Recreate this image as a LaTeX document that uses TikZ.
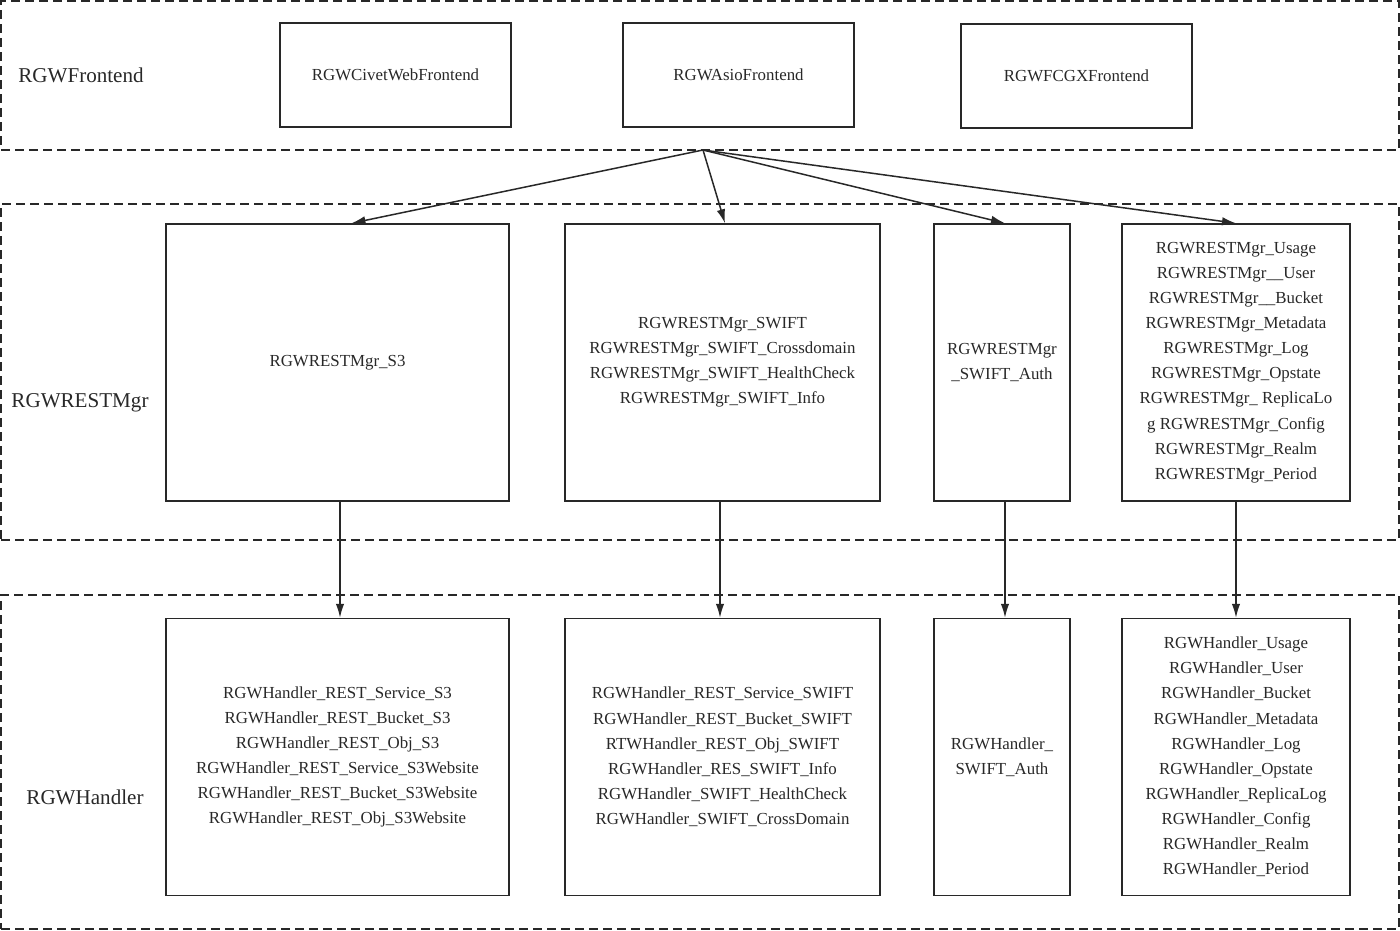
\documentclass[tikz,border=0pt]{standalone}
\usepackage{fontspec}
\setmainfont{Liberation Serif}
\usetikzlibrary{arrows.meta,positioning,fit,calc}
\definecolor{ink}{RGB}{40,40,40}
\tikzset{
  layer/.style={draw=ink, line width=0.45mm, dash pattern=on 1.7mm off 1.1mm, inner sep=0pt},
  lyrlbl/.style={font=\fontsize{12}{14}\selectfont, text=ink},
  cls/.style={rectangle, draw=ink, line width=0.3mm, align=center, text=ink,
              font=\fontsize{9.6}{14.3}\selectfont, inner sep=1pt},
  fe/.style={cls, minimum width=46.2mm, minimum height=20.8mm},
  ar/.style={-{Latex[length=2.8mm,width=1.7mm]}, line width=0.3mm, draw=ink},
}

\begin{document}
\begin{tikzpicture}[x=0.2mm,y={(0,-0.2mm)}]
\useasboundingbox (0,0) rectangle (1400,931);
% layers
\node[layer, fit={(1,1) (1399,150)}] (lfe) {};
\node[layer, fit={(1,204) (1399,540)}] (lmgr) {};
\node[layer, fit={(1,595) (1399,929)}] (lhd) {};
\node[lyrlbl] (tfe) at (81,75) {RGWFrontend};
\node[lyrlbl] (tmgr) at (80,403) {RGWRESTMgr};
\node[lyrlbl] (thd) at (85,797) {RGWHandler};

% frontends
\node[fe] (civet) at (395.5,75) {RGWCivetWebFrontend};
\node[fe] (asio) at (738.5,75) {RGWAsioFrontend};
\node[fe] (fcgx) at (1076.5,76) {RGWFCGXFrontend};

% REST managers
\node[cls, minimum width=68.6mm, minimum height=55.4mm] (ms3) at (337.5,362.5) {RGWRESTMgr\_S3};
\node[cls, minimum width=63mm, minimum height=55.4mm] (msw) at (722.5,362.5)
  {RGWRESTMgr\_SWIFT\\RGWRESTMgr\_SWIFT\_Crossdomain\\RGWRESTMgr\_SWIFT\_HealthCheck\\RGWRESTMgr\_SWIFT\_Info};
\node[cls, minimum width=27.2mm, minimum height=55.4mm] (mau) at (1002,362.5) {RGWRESTMgr\\\_SWIFT\_Auth};
\node[cls, minimum width=45.6mm, minimum height=55.4mm] (mus) at (1236,362.5)
  {RGWRESTMgr\_Usage\\RGWRESTMgr\_\_User\\RGWRESTMgr\_\_Bucket\\RGWRESTMgr\_Metadata\\RGWRESTMgr\_Log\\
   RGWRESTMgr\_Opstate\\RGWRESTMgr\_ ReplicaLo\\g RGWRESTMgr\_Config\\RGWRESTMgr\_Realm\\RGWRESTMgr\_Period};

% handlers
\node[cls, minimum width=68.6mm, minimum height=55.4mm, below=23.2mm of ms3] (hs3)
  {RGWHandler\_REST\_Service\_S3\\RGWHandler\_REST\_Bucket\_S3\\RGWHandler\_REST\_Obj\_S3\\
   RGWHandler\_REST\_Service\_S3Website\\RGWHandler\_REST\_Bucket\_S3Website\\RGWHandler\_REST\_Obj\_S3Website};
\node[cls, minimum width=63mm, minimum height=55.4mm, below=23.2mm of msw] (hsw)
  {RGWHandler\_REST\_Service\_SWIFT\\RGWHandler\_REST\_Bucket\_SWIFT\\RTWHandler\_REST\_Obj\_SWIFT\\
   RGWHandler\_RES\_SWIFT\_Info\\RGWHandler\_SWIFT\_HealthCheck\\RGWHandler\_SWIFT\_CrossDomain};
\node[cls, minimum width=27.2mm, minimum height=55.4mm, below=23.2mm of mau] (hau) {RGWHandler\_\\SWIFT\_Auth};
\node[cls, minimum width=45.6mm, minimum height=55.4mm, below=23.2mm of mus] (hus)
  {RGWHandler\_Usage\\RGWHandler\_User\\RGWHandler\_Bucket\\RGWHandler\_Metadata\\RGWHandler\_Log\\
   RGWHandler\_Opstate\\RGWHandler\_ReplicaLog\\RGWHandler\_Config\\RGWHandler\_Realm\\RGWHandler\_Period};

% connectors
\coordinate (hub) at (703,150);
\draw[ar] (hub) -- ($(ms3.north)+(14,0)$);
\draw[ar] (hub) -- ($(msw.north)+(2.5,0)$);
\draw[ar] (hub) -- ($(mau.north)+(3,0)$);
\draw[ar] (hub) -- (mus.north);
\foreach \a/\b/\dx in {ms3/hs3/2.5,msw/hsw/-2.5,mau/hau/3,mus/hus/0}
  \draw[ar] ($(\a.south)+(\dx,0)$) -- ($(\b.north)+(\dx,0)$);
\end{tikzpicture}
\end{document}
